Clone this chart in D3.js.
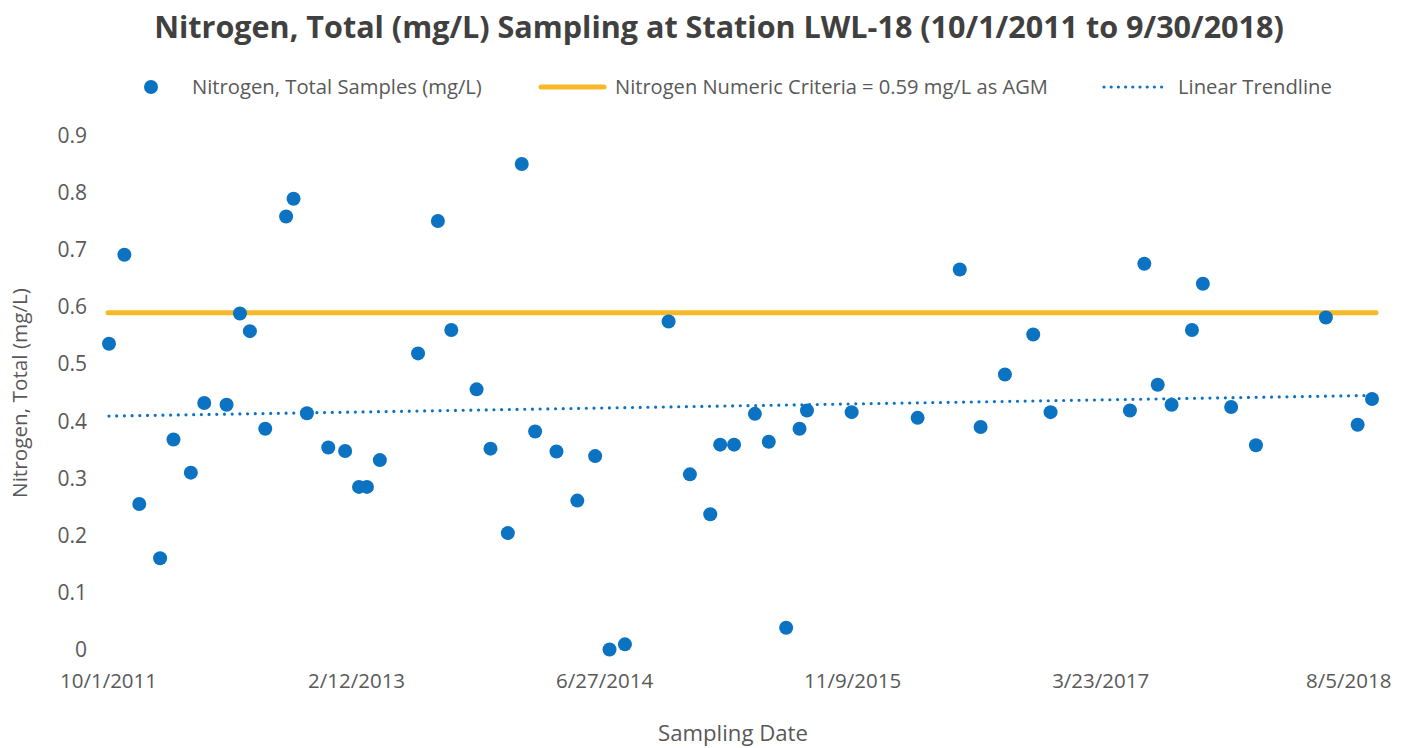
<!DOCTYPE html>
<html><head><meta charset="utf-8">
<script src="https://cdn.jsdelivr.net/npm/d3@7"></script>
<style>
html,body{margin:0;padding:0;background:#fff;}
svg{display:block;font-family:"Open Sans",sans-serif;}
</style></head>
<body>
<svg id="chart" width="1408" height="748"></svg>
<script>
// ---------- DATA ----------
const sampleDates = [
 "2011-10-03","2011-11-03","2011-12-03","2012-01-14","2012-02-10","2012-03-16","2012-04-12","2012-05-27",
 "2012-06-23","2012-07-13","2012-08-13","2012-09-24","2012-10-09","2012-11-05","2012-12-18","2013-01-21",
 "2013-02-18","2013-03-06","2013-04-01","2013-06-17","2013-07-27","2013-08-23","2013-10-13","2013-11-10",
 "2013-12-15","2014-01-12","2014-02-08","2014-03-23","2014-05-04","2014-06-09","2014-07-08","2014-08-08",
 "2014-11-04","2014-12-17","2015-01-27","2015-02-16","2015-03-16","2015-04-27","2015-05-25","2015-06-29",
 "2015-07-26","2015-08-10","2015-11-08","2016-03-20","2016-06-13","2016-07-25","2016-09-12","2016-11-08",
 "2016-12-13","2017-05-22","2017-06-20","2017-07-17","2017-08-14","2017-09-24","2017-10-16","2017-12-12",
 "2018-01-31","2018-06-21","2018-08-24","2018-09-22"
];
const nitrogenValues = [
 0.536,0.692,0.255,0.160,0.368,0.310,0.432,0.429,
 0.589,0.558,0.387,0.759,0.790,0.414,0.354,0.348,
 0.285,0.285,0.332,0.519,0.751,0.560,0.456,0.352,
 0.204,0.851,0.382,0.347,0.261,0.339,0.000,0.009,
 0.575,0.307,0.237,0.359,0.359,0.413,0.364,0.038,
 0.387,0.419,0.416,0.406,0.666,0.390,0.482,0.552,
 0.416,0.419,0.676,0.464,0.429,0.560,0.641,0.425,
 0.358,0.582,0.394,0.439
];
const criteriaValue = 0.59;
const xDomainDates = ["2011-10-01","2018-09-30"];
const xTickDates = ["2011-10-01","2013-02-12","2014-06-27","2015-11-09","2017-03-23","2018-08-05"];
const xTickLabels = ["10/1/2011","2/12/2013","6/27/2014","11/9/2015","3/23/2017","8/5/2018"];
const yTicks = [0,0.1,0.2,0.3,0.4,0.5,0.6,0.7,0.8,0.9];
const yTickLabels = ["0","0.1","0.2","0.3","0.4","0.5","0.6","0.7","0.8","0.9"];
const titleText = "Nitrogen, Total (mg/L) Sampling at Station LWL-18 (10/1/2011 to 9/30/2018)";
const legendLabels = ["Nitrogen, Total Samples (mg/L)","Nitrogen Numeric Criteria = 0.59 mg/L as AGM","Linear Trendline"];
const xAxisTitle = "Sampling Date";
const yAxisTitle = "Nitrogen, Total (mg/L)";

// ---------- STYLE ----------
const BLUE = "#0b73c2", GOLD = "#f7b928", TXT = "#595959", TITLE = "#404040";
const parse = d3.utcParse("%Y-%m-%d");
const svg = d3.select("#chart");

const plot = {left:108, right:1376, top:136, bottom:649.5};
const x = d3.scaleUtc().domain(xDomainDates.map(parse)).range([plot.left, plot.right]);
const y = d3.scaleLinear().domain([0,0.9]).range([plot.bottom, plot.top]);

function fit(sel, target){
  const n = sel.node();
  const fs = parseFloat(sel.attr("font-size"));
  const w = n.getComputedTextLength();
  sel.attr("font-size", (fs*target/w).toFixed(2));
}

// Title
const t = svg.append("text").attr("x",719).attr("y",38).attr("text-anchor","middle")
  .attr("font-size",28).attr("font-weight","bold").attr("fill",TITLE).text(titleText);
fit(t, 1130);

// Legend
const lg = svg.append("g");
lg.append("circle").attr("cx",151).attr("cy",87).attr("r",7).attr("fill",BLUE);
const l1 = lg.append("text").attr("x",192).attr("y",87).attr("dy","0.35em").attr("font-size",18).attr("fill",TXT).text(legendLabels[0]);
fit(l1, 290);
lg.append("line").attr("x1",541).attr("x2",604).attr("y1",87).attr("y2",87)
  .attr("stroke",GOLD).attr("stroke-width",5).attr("stroke-linecap","round");
const l2 = lg.append("text").attr("x",615).attr("y",87).attr("dy","0.35em").attr("font-size",18).attr("fill",TXT).text(legendLabels[1]);
fit(l2, 433);
lg.append("line").attr("x1",1104).attr("x2",1166).attr("y1",87).attr("y2",87)
  .attr("stroke",BLUE).attr("stroke-width",3.2).attr("stroke-linecap","round").attr("stroke-dasharray","0 7.2");
const l3 = lg.append("text").attr("x",1178).attr("y",87).attr("dy","0.35em").attr("font-size",18).attr("fill",TXT).text(legendLabels[2]);
fit(l3, 154);

// Axes
const xAxis = d3.axisBottom(x).tickValues(xTickDates.map(parse))
  .tickFormat((d,i)=>xTickLabels[i]).tickSize(0).tickPadding(24);
const gx = svg.append("g").attr("transform",`translate(0,${plot.bottom})`).call(xAxis);
gx.select(".domain").remove();
gx.selectAll("text").attr("font-size",20.5).attr("fill",TXT).attr("font-family","Open Sans, sans-serif");

const yAxis = d3.axisLeft(y).tickValues(yTicks).tickFormat((d,i)=>yTickLabels[i]).tickSize(0).tickPadding(21);
const gy = svg.append("g").attr("transform",`translate(${plot.left},0)`).call(yAxis);
gy.select(".domain").remove();
gy.selectAll("text").attr("font-size",21).attr("fill",TXT).attr("font-family","Open Sans, sans-serif");

// Axis titles
const xt = svg.append("text").attr("x",733).attr("y",733).attr("dy","0.35em").attr("text-anchor","middle")
  .attr("font-size",20).attr("fill",TXT).text(xAxisTitle);
fit(xt, 150);
const yt = svg.append("text").attr("transform","translate(20,393) rotate(-90)").attr("dy","0.35em")
  .attr("text-anchor","middle").attr("font-size",20).attr("fill",TXT).text(yAxisTitle);
fit(yt, 210);

// Criteria line
svg.append("line").attr("x1",x(parse(xDomainDates[0]))).attr("x2",x(parse(xDomainDates[1])))
  .attr("y1",y(criteriaValue)).attr("y2",y(criteriaValue))
  .attr("stroke",GOLD).attr("stroke-width",5).attr("stroke-linecap","round");

// Linear trendline (least squares on the samples)
const pts = sampleDates.map((d,i)=>({t:parse(d).getTime(), v:nitrogenValues[i]}));
const mt = d3.mean(pts,p=>p.t), mv = d3.mean(pts,p=>p.v);
const slope = d3.sum(pts,p=>(p.t-mt)*(p.v-mv))/d3.sum(pts,p=>(p.t-mt)*(p.t-mt));
const icpt = mv - slope*mt;
const t0 = pts[0].t, t1 = pts[pts.length-1].t;
svg.append("line").attr("x1",x(new Date(t0))).attr("x2",x(new Date(t1)))
  .attr("y1",y(icpt+slope*t0)).attr("y2",y(icpt+slope*t1))
  .attr("stroke",BLUE).attr("stroke-width",3.2).attr("stroke-linecap","round").attr("stroke-dasharray","0 7.7");

// Points
svg.append("g").selectAll("circle").data(pts).join("circle")
  .attr("cx",p=>x(new Date(p.t))).attr("cy",p=>y(p.v)).attr("r",7).attr("fill",BLUE);
</script>
</body></html>
